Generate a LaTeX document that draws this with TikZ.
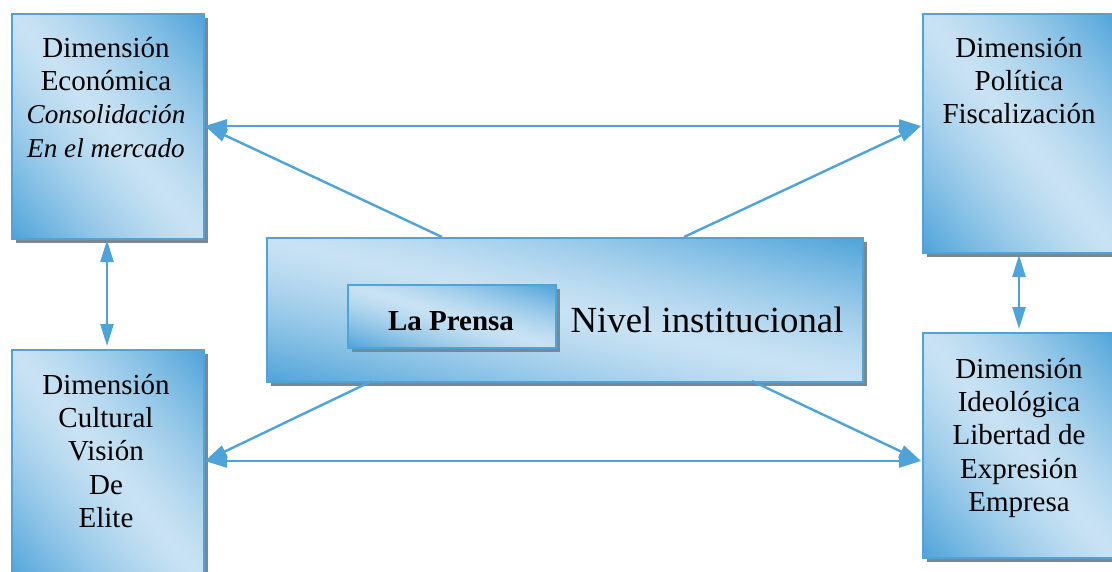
\documentclass[tikz,border=0pt]{standalone}
\usepackage{fontspec}
\setmainfont{Liberation Serif}
\usetikzlibrary{arrows.meta,shadows}
\definecolor{bdark}{RGB}{78,163,217}
\definecolor{blight}{RGB}{200,226,243}
\definecolor{shadowgray}{RGB}{122,136,150}
% dark at bottom-left and top-right corners, light along the other diagonal
\pgfdeclarefunctionalshading{boxshade}{\pgfpoint{0bp}{0bp}}{\pgfpoint{100bp}{100bp}}{}{
  add 100 sub 50 div abs
  dup 1 gt {pop 1} if
  1.35 exp
  dup -0.478 mul 0.784 add exch
  dup -0.247 mul 0.886 add exch
  -0.102 mul 0.953 add
}
\begin{document}
\begin{tikzpicture}[x=0.5pt,y=-0.5pt,
  box/.style={draw=bdark, line width=1pt, shading=boxshade,
    general shadow={fill=shadowgray, shadow xshift=2pt, shadow yshift=-2pt},
    inner sep=0pt, anchor=north west},
  lbl/.style={anchor=north, align=center, inner sep=0pt, font=\fontsize{14.5}{16.6}\selectfont},
  tip/.tip={Triangle[length=11pt,width=6.5pt]},
  arr/.style={draw=bdark, line width=1.2pt, -tip},
  dbl/.style={draw=bdark, line width=1.2pt, tip-tip}]
\clip (0,0) rectangle (1112,572);
% boxes
\node[box, minimum width=96pt, minimum height=112.5pt] (eco) at (11,13) {};
\node[box, minimum width=97pt, minimum height=119.5pt] (pol) at (922,13) {};
\node[box, minimum width=96pt, minimum height=116pt] (cul) at (11,349) {};
\node[box, minimum width=97pt, minimum height=112.5pt] (ide) at (922,332) {};
\node[box, minimum width=298pt, minimum height=72pt] (cen) at (266,237) {};
\node[box, minimum width=104pt, minimum height=31.5pt] (inn) at (347,284) {};
% texts
\node[lbl] (ecot) at (106,37) {Dimensión\\Económica\\{\fontsize{13.6}{16.6}\selectfont\itshape Consolidación}\\{\fontsize{13.6}{16.6}\selectfont\itshape En el mercado}};
\node[lbl] (polt) at (1019,37) {Dimensión\\Política\\Fiscalización};
\node[lbl] (cult) at (106,374) {Dimensión\\Cultural\\Visión\\De\\Elite};
\node[lbl] (idet) at (1019,358) {Dimensión\\Ideológica\\Libertad de\\Expresión\\Empresa};
\node[anchor=base, inner sep=0pt, font=\bfseries\fontsize{14.5}{16}\selectfont] (prt) at (451,330) {La Prensa};
\node[anchor=base, inner sep=0pt, font=\fontsize{18.4}{20}\selectfont] (nivt) at (707,332) {Nivel institucional};
% connector ends
\coordinate (eR) at (205,126);
\coordinate (pL) at (921,126);
\coordinate (cR) at (205,461);
\coordinate (iL) at (921,461);
\coordinate (eB) at (107,240);
\coordinate (cT) at (107,346);
\coordinate (pB) at (1019,255);
\coordinate (iT) at (1019,329);
\coordinate (ct1) at (442,237);
\coordinate (ct2) at (684,237);
\coordinate (cb1) at (372,381);
\coordinate (cb2) at (752,381);
% connectors
\draw[dbl] (eR) -- (pL);
\draw[dbl] (cR) -- (iL);
\draw[dbl] (eB) -- (cT);
\draw[dbl] (pB) -- (iT);
\draw[arr] (ct1) -- (eR);
\draw[arr] (ct2) -- (pL);
\draw[arr] (cb1) -- (cR);
\draw[arr] (cb2) -- (iL);
\end{tikzpicture}
\end{document}
